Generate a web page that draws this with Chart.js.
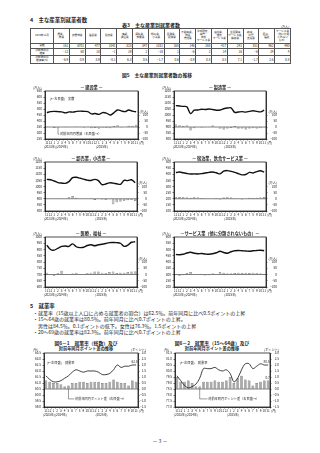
<!DOCTYPE html>
<html lang="ja">
<head>
<meta charset="utf-8">
<title>主な産業別就業者数・就業率</title>
<script src="https://cdn.jsdelivr.net/npm/chart.js@4.4.1/dist/chart.umd.min.js"></script>
<style>
  html, body { margin: 0; padding: 0; background: #fff; }
  body { position: relative; width: 320px; height: 453px; overflow: hidden; color: #1e1e1e;
         font-family: 'Noto Sans CJK JP', 'Noto Sans', sans-serif; }
  .t { position: absolute; white-space: nowrap; line-height: 1; }
  .h { font-weight: bold; font-size: 5.4px; }
  .c { transform: translateX(-50%); }
  .bul { font-size: 5px; }
  canvas { position: absolute; }
  #tbl { position: absolute; left: 30px; top: 28px; width: 260px; border-collapse: collapse; table-layout: fixed; }
  #tbl td { border: 0.5px solid #555; padding: 0 0.6px; font-size: 3.1px; line-height: 1.1; text-align: right; overflow: hidden; white-space: nowrap; }
  #tbl tr.head td { font-size: 2.6px; line-height: 1.2; text-align: center; }
  #tbl td.lab { text-align: center; font-size: 2.6px; }
</style>
</head>
<body>
<div class="t h" style="left:30px;top:17.5px">4　主な産業別就業者数</div>
<div class="t h" style="left:122px;top:21.8px;font-size:5px">表3　主な産業別就業者数</div>
<div class="t" style="left:281px;top:25.6px;font-size:3px">(万人)</div>
<table id="tbl"><colgroup id="cols"></colgroup><tbody id="tb"></tbody></table>
<div class="t h c" style="left:157px;top:72.5px;font-size:4.8px">図5　主な産業別就業者数の推移</div>

<div class="t h" style="left:30px;top:303.5px">5　就業率</div>
<div class="t bul" style="left:33px;top:309.6px">・就業率（15歳以上人口に占める就業者の割合）は62.5％。前年同月に比べ0.5ポイントの上昇</div>
<div class="t bul" style="left:33px;top:316.1px">・15～64歳の就業率は80.5％。前年同月に比べ0.7ポイントの上昇。</div>
<div class="t bul" style="left:38px;top:322.6px">男性は84.5％。0.1ポイントの低下。女性は76.3％。1.5ポイントの上昇</div>
<div class="t bul" style="left:33px;top:329.1px">・20～69歳の就業率は82.3％。前年同月に比べ0.7ポイントの上昇</div>

<div class="t h c" style="left:86px;top:340.5px;font-size:4.8px">図6－1　就業率（総数）及び</div>
<div class="t h c" style="left:86px;top:346px;font-size:4.2px">対前年同月ポイント差の推移</div>
<div class="t h c" style="left:212px;top:340.5px;font-size:4.8px">図6－2　就業率（15～64歳）及び</div>
<div class="t h c" style="left:212px;top:346px;font-size:4.2px">対前年同月ポイント差の推移</div>

<div class="t c" style="left:160px;top:437.5px;font-size:5px">－ 3 －</div>

<script>
// 2023年11月 … 2025年11月
const months = ['11','12','1','2','3','4','5','6','7','8','9','10','11','12','1','2','3','4','5','6','7','8','9','10','11'];
const yearMarks = [[0, '(2023年)(2024年)'], [14, '(2025年)']];

// 表3
const tableHeads = ['農業，\n林業', '非農林業', '建設業', '製造業', '情報\n通信業', '運輸業，\n郵便業',
  '卸売業，\n小売業', '金融業，\n保険業', '不動産業，\n物品\n賃貸業', '学術研究，\n専門・\n技術\nサービス業',
  '宿泊業，\n飲食\nサービス業', '生活関連\nサービス業，\n娯楽業', '教育，\n学習\n支援業', '医療，\n福祉',
  'サービス業\n（他に分類\nされない\nもの）'];
const tableLevel = [161, 6701, 477, 1041, 323, 347, 1031, 165, 146, 265, 417, 241, 351, 962, 490];
const tableDiff = [-12, 60, 18, -1, 19, 2, -18, 1, -6, 2, 14, 16, -6, 24, 4];
const tableRate = [-6.9, 0.9, 3.9, -0.1, 6.3, 0.6, -1.7, 0.6, -3.9, 0.8, 3.5, 7.1, -1.7, 2.6, 0.8];

// 図5 実数（万人）と対前年同月増減（万人）
const construction = [470, 478, 480, 478, 476, 468, 476, 474, 480, 482, 480, 478, 459, 462, 455, 470, 466, 450, 468, 492, 484, 478, 492, 482, 477];
const constructionDiff = [5, 3, -8, 2, 3, -4, -5, -3, 4, 3, -6, -5, -10, -8, -12, -6, -9, -10, 8, 15, -4, -3, 10, 10, 18];
const manufacturing = [1078, 1075, 1072, 1068, 1012, 1040, 1042, 1048, 1046, 1050, 1046, 1040, 1042, 1052, 1058, 1060, 1022, 1025, 1028, 1024, 1030, 1036, 1030, 1026, 1041];
const manufacturingDiff = [20, 15, 8, 12, -30, -10, -5, -6, -5, 5, 12, -5, -15, -20, -12, -8, 8, -15, -12, -20, -12, -10, -12, -10, -1];
const wholesale = [1058, 1055, 1045, 1032, 1028, 1026, 1040, 1072, 1075, 1068, 1060, 1052, 1049, 1058, 1048, 1015, 1020, 1030, 1028, 1022, 1018, 1050, 1048, 1055, 1031];
const wholesaleDiff = [3, -2, 2, -5, 1, 2, 12, 22, 8, 5, 2, 0, 4, -10, 0, -6, -8, -4, -45, -28, -22, -16, -12, -8, -18];
const hospitality = [414, 418, 412, 406, 402, 403, 402, 405, 410, 415, 418, 412, 403, 425, 430, 424, 415, 405, 395, 398, 415, 410, 422, 428, 417];
const hospitalityDiff = [12, 14, 12, 10, 8, 12, 10, 6, 4, 5, 3, 6, -6, 10, 12, 10, 4, 2, -6, 3, 8, 6, 8, 10, 14];
const medical = [935, 900, 895, 910, 925, 928, 925, 945, 922, 915, 918, 932, 938, 930, 938, 942, 948, 955, 956, 955, 950, 925, 935, 958, 962];
const medicalDiff = [15, 3, -10, 10, 30, 5, 0, 8, 15, 3, 5, 10, 15, 25, 25, 15, 10, 20, 25, 12, 15, 15, 20, 25, 24];
const otherServices = [460, 458, 462, 472, 478, 470, 466, 468, 464, 462, 466, 474, 486, 476, 470, 482, 490, 492, 490, 488, 486, 490, 492, 494, 490];
const otherServicesDiff = [-5, -10, -5, 12, 20, 0, 0, -3, -8, -6, 8, 2, 20, 15, 8, 8, 12, 15, 12, 15, 12, 15, 10, 8, 4];

// 図6 就業率（％）と対前年同月ポイント差
const rateTotal = [61.6, 61.3, 61.1, 61.1, 61.2, 61.4, 61.6, 61.9, 62.1, 62.0, 61.9, 62.0, 62.0, 62.0, 61.9, 61.7, 61.7, 61.8, 62.1, 62.5, 62.3, 62.4, 62.4, 62.5, 62.5];
const rateTotalDiff = [0.7, 0.6, 0.5, 0.5, 0.4, 0.2, 0.3, 0.5, 0.5, 0.6, 0.6, 0.5, 0.6, 0.6, 0.6, 0.5, 0.5, 0.6, 0.8, 0.6, 0.5, 0.5, 0.3, 0.7, 0.6];
const rate1564 = [79.6, 79.2, 78.8, 78.6, 78.7, 78.9, 79.4, 80.2, 80.2, 80.2, 80.3, 80.1, 80.0, 80.1, 79.8, 79.1, 79.4, 80.1, 80.6, 80.6, 80.2, 80.4, 80.6, 80.5, 80.5];
const rate1564Diff = [1.0, 0.6, 0.6, 0.7, 0.5, 0.2, 0.2, 0.6, 0.6, 0.6, 0.7, 0.6, 0.6, 0.7, 1.0, 0.5, 0.9, 1.1, 0.8, 0.7, 0.3, 0.5, 0.6, 0.7, 0.7];

const FONT = "'Noto Sans CJK JP', 'Noto Sans', sans-serif";
const signed = d => v => (v < 0 ? '−' : '') + Math.abs(v).toFixed(d);

// ---- table ----
const cols = document.getElementById('cols');
[23, ...tableHeads.map(() => 15.8)].forEach(w => {
  const c = document.createElement('col');
  c.style.width = w + 'px';
  cols.appendChild(c);
});
function addRow(cls, height, cells) {
  const tr = document.createElement('tr');
  if (cls) tr.className = cls;
  tr.style.height = height + 'px';
  cells.forEach((txt, i) => {
    const td = document.createElement('td');
    if (i === 0) td.className = 'lab';
    td.innerHTML = String(txt).replace(/\n/g, '<br>');
    tr.appendChild(td);
  });
  document.getElementById('tb').appendChild(tr);
}
addRow('head', 14.5, ['2025年11月', ...tableHeads]);
addRow('', 5, ['実数', ...tableLevel.map(String)]);
addRow('', 7.5, ['対前年同月\n増減', ...tableDiff.map(signed(0))]);
addRow('', 7.5, ['対前年同月\n増減率(%)', ...tableRate.map(signed(1))]);

// ---- charts ----
Chart.defaults.font.family = FONT;
Chart.defaults.font.size = 3.1;
Chart.defaults.color = '#222';

function textLayer(p) {
  return {
    id: 'textLayer',
    afterDatasetsDraw(chart) {
      const { ctx, chartArea: a, scales } = chart;
      const x = scales.x, y2 = scales.y2;
      const w = a.right - a.left, h = a.bottom - a.top;
      ctx.save();
      ctx.strokeStyle = '#000';
      ctx.lineWidth = 0.5;
      const z = y2.getPixelForValue(0);
      ctx.beginPath(); ctx.moveTo(a.left, z); ctx.lineTo(a.right, z); ctx.stroke();
      ctx.lineWidth = 0.7;
      ctx.strokeRect(a.left, a.top, w, h);
      ctx.fillStyle = '#1e1e1e';
      if (p.title) {
        ctx.font = 'bold 4.2px ' + FONT;
        ctx.textAlign = 'center';
        ctx.textBaseline = 'bottom';
        ctx.fillText(p.title, a.left + w / 2, a.top - 1.5);
      }
      ctx.font = '3.2px ' + FONT;
      ctx.textBaseline = 'bottom';
      ctx.textAlign = 'left';
      ctx.fillText(p.leftUnit, a.left - p.unitDx, a.top - 1.8);
      ctx.textAlign = 'right';
      ctx.fillText(p.rightUnit, y2.right, y2.getPixelForValue(p.rightUnitAt) - 1.8);

      ctx.font = '3.1px ' + FONT;
      ctx.textBaseline = 'top';
      ctx.textAlign = 'left';
      ctx.fillText('(月)', a.right + 1.2, a.bottom + 2);
      yearMarks.forEach(([i, t]) => ctx.fillText(t, x.getPixelForValue(i) - 3, a.bottom + 5.8));

      ctx.font = '3.2px ' + FONT;
      ctx.textBaseline = 'middle';
      (p.notes || []).forEach(n => {
        const tx = a.left + n.fx * w, ty = a.top + n.fy * h;
        if (n.leader !== undefined) {
          const lx = x.getPixelForValue(n.leader);
          ctx.lineWidth = 0.4;
          ctx.beginPath(); ctx.moveTo(lx, z); ctx.lineTo(lx, ty); ctx.lineTo(tx - 0.8, ty); ctx.stroke();
        }
        ctx.fillText(n.text, tx, ty);
      });
      ctx.textBaseline = 'bottom';
      (p.tags || []).forEach(t => {
        const el = chart.getDatasetMeta(t.ds).data[t.i];
        ctx.textAlign = t.align;
        ctx.fillText(t.text, el.x + t.dx, el.y + t.dy);
      });
      ctx.restore();
    },
  };
}

function drawPanel(p) {
  const [cx, cy, cw, ch] = p.box;
  const [px0, py0, px1, py1] = p.plot;
  const cv = document.createElement('canvas');
  cv.width = cw;
  cv.height = ch;
  cv.style.left = cx + 'px';
  cv.style.top = cy + 'px';
  document.body.appendChild(cv);
  const fmt = signed(p.dec);
  return new Chart(cv, {
    type: 'bar',
    data: {
      labels: months,
      datasets: [
        { type: 'line', data: p.level, yAxisID: 'y', borderColor: '#111', borderWidth: p.lineWidth,
          pointRadius: 0, tension: 0.35, order: 1 },
        { type: 'bar', data: p.diff, yAxisID: 'y2', backgroundColor: p.barColor, borderColor: '#333',
          borderWidth: 0.4, barPercentage: p.barPct, categoryPercentage: 1, order: 2 },
      ],
    },
    options: {
      responsive: false,
      animation: false,
      events: [],
      layout: { padding: { top: py0 - cy, right: cx + cw - p.rx, bottom: 0, left: 0 } },
      plugins: { legend: { display: false }, tooltip: { enabled: false } },
      scales: {
        x: {
          offset: true,
          grid: { drawOnChartArea: false, tickLength: 1.5, color: '#000', lineWidth: 0.5 },
          border: { color: '#000', width: 0.7 },
          ticks: { autoSkip: false, maxRotation: 0, minRotation: 0, padding: 0.5, font: { size: 3.1 } },
          afterFit: s => { s.height = cy + ch - py1; },
        },
        y: {
          position: 'left', min: p.range[0], max: p.range[1],
          ticks: { stepSize: p.step, padding: 1.5, autoSkip: false, callback: v => fmt(v) },
          grid: { drawOnChartArea: false, tickLength: 1.5, color: '#000', lineWidth: 0.5 },
          border: { color: '#000', width: 0.7 },
          afterFit: s => { s.width = px0 - cx; },
        },
        y2: {
          position: 'right', min: p.range2[0], max: p.range2[1],
          ticks: { stepSize: p.step2, padding: 1.5, crossAlign: 'far', autoSkip: false,
                   callback: v => (v <= p.show + 1e-9 ? fmt(v) : '') },
          grid: { drawOnChartArea: false, tickLength: 1.5, lineWidth: 0.5,
                  color: c => (c.tick && c.tick.value > p.show + 1e-9 ? 'rgba(0,0,0,0)' : '#000') },
          border: { color: '#000', width: 0.7 },
          afterFit: s => { s.width = p.rx - px1; },
        },
      },
    },
    plugins: [textLayer(p)],
  });
}

const upper = { range2: [-100, 300], step2: 50, show: 100, step: 50, dec: 0,
  leftUnit: '(万人)', rightUnit: '(万人)', rightUnitAt: 100, unitDx: 12,
  lineWidth: 1.4, barColor: '#bcbcbc', barPct: 0.68 };
const lower = { range2: [-1.5, 3], step2: 0.5, show: 3, step: 0.5, dec: 1,
  leftUnit: '(%)', rightUnit: '(ポイント)', rightUnitAt: 3, unitDx: 11,
  lineWidth: 0.8, barColor: '#a8a8a8', barPct: 0.72 };

const panels = [
  { ...upper, box: [20, 80, 132, 70], plot: [45, 91, 138, 139], rx: 148, title: '— 建設業 —',
    level: construction, diff: constructionDiff, range: [250, 650],
    notes: [{ text: '(←左目盛)　実数', fx: 0.054, fy: 0.17 },
            { text: '対前年同月増減（右目盛→）', fx: 0.16, fy: 0.9, leader: 3 }] },
  { ...upper, box: [150, 80, 134, 70], plot: [174, 91, 266, 139], rx: 277, title: '— 製造業 —',
    level: manufacturing, diff: manufacturingDiff, range: [800, 1200] },
  { ...upper, box: [20, 151, 132, 71], plot: [45, 162, 137, 211], rx: 147, title: '— 卸売業，小売業 —',
    level: wholesale, diff: wholesaleDiff, range: [800, 1200] },
  { ...upper, box: [150, 151, 134, 71], plot: [174, 162, 266, 211], rx: 277, title: '— 宿泊業，飲食サービス業 —',
    level: hospitality, diff: hospitalityDiff, range: [100, 500] },
  { ...upper, box: [20, 226, 132, 72], plot: [45, 237, 137, 287], rx: 147, title: '— 医療，福祉 —',
    level: medical, diff: medicalDiff, range: [600, 1000] },
  { ...upper, box: [150, 226, 134, 72], plot: [174, 237, 266, 287], rx: 277, title: '—サービス業（他に分類されないもの）—',
    level: otherServices, diff: otherServicesDiff, range: [200, 600] },
  { ...lower, box: [20, 345, 134, 73], plot: [44, 353, 138, 407], rx: 146,
    level: rateTotal, diff: rateTotalDiff, range: [59, 63.5],
    notes: [{ text: '(←左目盛)　就業率', fx: 0.03, fy: 0.185 },
            { text: '対前年同月ポイント差（右目盛→）', fx: 0.33, fy: 0.85, leader: 6 }],
    tags: [{ ds: 0, i: 24, text: '62.5', dx: 1.5, dy: -1.5, align: 'right' }] },
  { ...lower, box: [150, 345, 136, 73], plot: [175, 353, 270, 407], rx: 279,
    level: rate1564, diff: rate1564Diff, range: [77, 81.5],
    notes: [{ text: '(←左目盛)　就業率', fx: 0.05, fy: 0.185 },
            { text: '対前年同月ポイント差（右目盛→）', fx: 0.35, fy: 0.85, leader: 6 }],
    tags: [{ ds: 0, i: 24, text: '80.5', dx: 1.5, dy: -1.5, align: 'right' },
           { ds: 1, i: 24, text: '0.7', dx: -0.5, dy: -0.8, align: 'center' }] },
];

panels.forEach(drawPanel);
</script>
</body>
</html>
